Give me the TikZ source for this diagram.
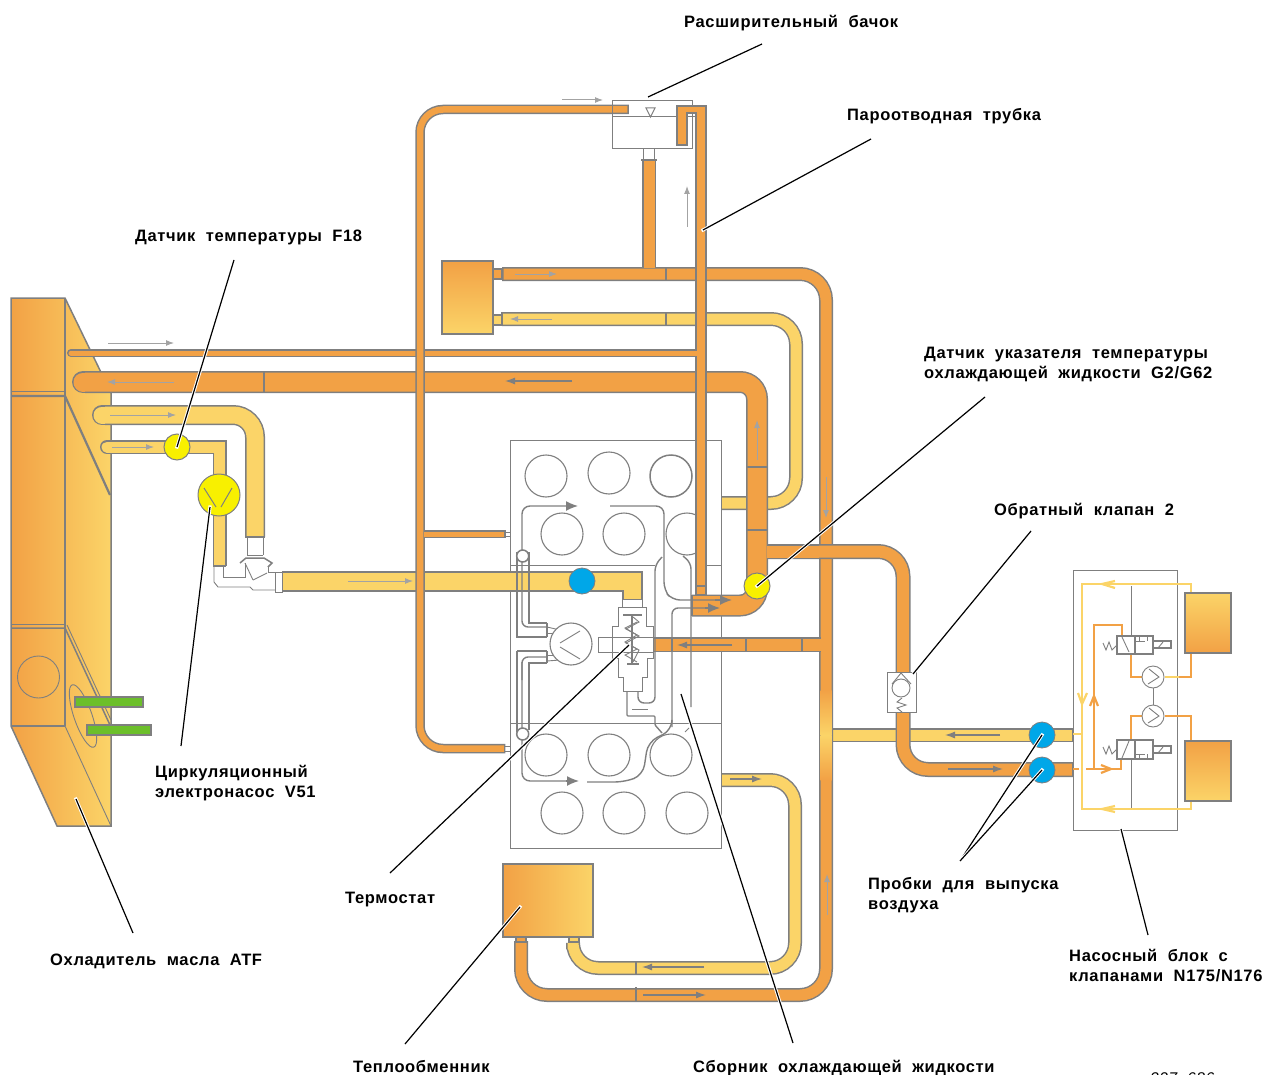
\documentclass[tikz,border=0pt]{standalone}
\usepackage{fontspec}
\setmainfont[LetterSpace=4]{Liberation Sans}
\usetikzlibrary{arrows.meta,positioning}
\definecolor{hot}{HTML}{F2A145}
\definecolor{warm}{HTML}{FBD468}
\definecolor{wallgray}{HTML}{7F7F7F}
\definecolor{flowlight}{HTML}{A3A3A3}
\definecolor{sensoryellow}{HTML}{F8F000}
\definecolor{plugblue}{HTML}{00A7E8}
\definecolor{linegreen}{HTML}{6CBF2A}
\tikzset{
  pipe/.style 2 args={
    draw=wallgray,
    line width=1.5pt,
    double=#1,
    double distance=#2pt
  },
  wall/.style={
    draw=wallgray,
    line width=1.5pt
  },
  thinwall/.style={
    draw=wallgray,
    line width=0.9pt
  },
  duct/.style={
    draw=wallgray,
    line width=1.4pt,
    rounded corners=6pt
  },
  flow/.style={
    draw=wallgray,
    line width=1.2pt,
    -{Latex[length=10pt,width=7pt]}
  },
  bigflow/.style={
    draw=wallgray,
    line width=1.4pt,
    -{Latex[length=12pt,width=10pt]}
  },
  flowpale/.style={
    draw=flowlight,
    line width=1pt,
    -{Latex[length=8pt,width=6pt]}
  },
  cyl/.style={
    shape=circle,
    draw=wallgray,
    line width=1.1pt,
    inner sep=0pt,
    minimum size=42pt
  },
  sensor/.style={
    shape=circle,
    draw=wallgray,
    line width=1pt,
    fill=sensoryellow,
    inner sep=0pt,
    minimum size=26pt
  },
  plug/.style={
    shape=circle,
    draw=wallgray,
    line width=0.8pt,
    fill=plugblue,
    inner sep=0pt,
    minimum size=26pt
  },
  rotor/.style={
    shape=circle,
    draw=wallgray,
    line width=0.9pt,
    fill=white,
    inner sep=0pt,
    minimum size=22pt
  },
  leader/.style={
    draw=black,
    line width=1.2pt,
    preaction={draw=white,line width=3.2pt,line cap=rect}
  },
  lbl/.style={
    anchor=west,
    align=left,
    inner sep=0pt,
    yshift=-2pt,
    font=\bfseries\fontsize{16.5}{20}\selectfont
  },
  hotline/.style={
    draw=hot,
    line width=2.2pt
  },
  warmline/.style={
    draw=warm,
    line width=2.2pt
  }
}

\begin{document}
\begin{tikzpicture}[x=1pt,y=-1pt]
        \useasboundingbox (0,0) rectangle (1268,1075);

        % oil cooler
        \shade[left color=hot, right color=warm] (11,298) -- (65,298) -- (111,393) -- (111,826) -- (57,826) -- (11,726) -- cycle;
        \draw[wall] (11,298) -- (65,298) -- (111,393) -- (111,826) -- (57,826) -- (11,726) -- cycle;
        \draw[wall] (65,298) -- (65,726);
        \draw[wall] (11,726) -- (65,726);
        \draw[thinwall] (65,726) -- (111,826);
        \draw[thinwall] (11,391) -- (65,391);
        \draw[wall, line width=2.2pt] (11,396) -- (65,396) -- (110,495);
        \draw[thinwall] (11,624) -- (65,624);
        \draw[wall] (11,628) -- (65,628) -- (110,725);
        \draw[thinwall] (67,625) -- (111,720);
        \draw[thinwall] (38.5,677) circle[radius=21];
        \draw[thinwall, shift={(83,716)}, rotate=-71] (0,0) ellipse[x radius=33, y radius=9];
        \draw[wall, fill=linegreen] (75,697) rectangle (143,707);
        \draw[wall, fill=linegreen] (87,725) rectangle (151,735);

        % engine block
        \draw[wall, line width=1pt] (510,440) rectangle (721,848);
        \draw[thinwall] (510,723) -- (721,723);
        \draw[thinwall] (510,565) -- (655,565);
        \draw[thinwall] (706,565) -- (721,565);
        \node[cyl] (cylA) at (546,476) {};
        \node[cyl] (cylB) at (609,473) {};
        \node[cyl, line width=1.5pt] (cylC) at (671,476) {};
        \node[cyl] (cylD) at (562,534) {};
        \node[cyl] (cylE) at (624,534) {};
        \node[cyl] (cylF) at (687,534) {};
        \node[cyl] (cylG) at (546,755) {};
        \node[cyl] (cylH) at (609,755) {};
        \node[cyl] (cylI) at (671,755) {};
        \node[cyl] (cylJ) at (562,813) {};
        \node[cyl] (cylK) at (624,813) {};
        \node[cyl] (cylL) at (687,813) {};
        \fill[white] (706.6,510) rectangle (712,560);

        % cold side
        \draw[pipe={warm}{11}, line cap=round] (107,447) -- (112,447);
        \draw[pipe={warm}{11}] (110,447) -- (219.5,447) -- (219.5,566);
        \draw[wall] (213,566) -- (226,566);
        \draw[pipe={warm}{17}, line cap=round] (102,415) -- (108,415);
        \draw[pipe={warm}{17}, rounded corners=22pt] (105,415) -- (255,415) -- (255,537);
        \draw[wall] (245,537) -- (265,537);
        \draw[pipe={warm}{17.5}, line cap=rect] (292,581.5) -- (632.5,581.5) -- (632.5,590);
        \draw[pipe={warm}{11}, rounded corners=25pt] (722,503) -- (796,503) -- (796,319) -- (502,319);
        \draw[wall] (502,312) -- (502,326);
        \draw[pipe={warm}{11}, rounded corners=25pt] (722,780) -- (795,780) -- (795,968) -- (573,968) -- (573,949);
        \draw[pipe={warm}{11}] (833,735) -- (1073,735);
        \draw[wall] (1073,728) -- (1073,742);

        % hot side
        \draw[pipe={hot}{5}, line cap=round] (71,353) -- (75,353);
        \draw[pipe={hot}{5}] (73,353) -- (697,353);
        \draw[pipe={hot}{19}, line cap=round] (83,382) -- (90,382);
        \draw[pipe={hot}{19}, rounded corners=17pt] (85,382) -- (757,382) -- (757,605.5) -- (692,605.5);
        \draw[wall] (692,595) -- (692,616);
        \draw[pipe={hot}{11}, line cap=rect, rounded corners=26pt] (509,274) -- (826,274) -- (826,995) -- (521,995) -- (521,948);
        \draw[pipe={hot}{11}] (649,160) -- (649,268.4);
        \draw[wall] (641,160) -- (657,160);
        \draw[pipe={hot}{12}, rounded corners=25pt] (767.4,551.5) -- (903,551.5) -- (903,769.5) -- (1073,769.5);
        \draw[wall] (1073,762) -- (1073,777);
        \draw[pipe={hot}{12}] (653,644.5) -- (820.6,644.5);
        \draw[pipe={hot}{12}] (767.4,551.5) -- (819.4,551.5);
        \shade[top color=hot, bottom color=warm] (820.5,690) rectangle (831.5,735);
        \shade[top color=warm, bottom color=hot] (820.5,735) rectangle (831.5,780);

        \draw[wall] (264,372) -- (264,393);
        \draw[wall] (746,467) -- (768,467);
        \draw[wall] (746,530) -- (768,530);
        \draw[wall] (666,267) -- (666,281);
        \draw[wall] (666,312) -- (666,326);
        \draw[wall] (636,987) -- (636,1002);
        \draw[wall] (636,961) -- (636,975);
        \draw[wall] (672,638) -- (672,651);
        \draw[wall] (746,638) -- (746,651);
        \draw[wall] (802,638) -- (802,651);

        % radiator on top
        \shade[top color=hot, bottom color=warm] (442,261) rectangle (493,334);
        \draw[wall] (442,261) rectangle (493,334);
        \draw[wall, fill=hot] (493,269) rectangle (502,279);
        \draw[wall, fill=warm] (493,315) rectangle (502,325);

        % heat exchanger
        \shade[left color=hot, right color=warm] (503,864) rectangle (593,937);
        \draw[wall] (503,864) rectangle (593,937);
        \draw[wall, fill=hot] (516,937) rectangle (526,942);
        \draw[wall, fill=warm] (569,937) rectangle (579,942);

        % left loop
        \draw[pipe={hot}{6.5}, line cap=rect, rounded corners=23pt] (624,109.5) -- (420,109.5) -- (420,748.5) -- (500.5,748.5);
        \draw[pipe={hot}{5}] (424.4,534) -- (505,534);
        \draw[wall] (505,530) -- (505,538);
        \draw[thinwall] (505,532) -- (511,532);
        \draw[thinwall] (505,536) -- (511,536);
        \draw[thinwall] (505,746) -- (511,746);
        \draw[thinwall] (505,751) -- (511,751);

        % expansion tank
        \draw[wall, line width=1pt] (612,101) rectangle (692,149);
        \draw[wall, line width=1pt] (612,117) -- (696,117);
        \draw[wall, line width=1pt] (646,108) -- (655,108) -- (650.5,117) -- cycle;
        \draw[wall, line width=1pt] (643,149) -- (643,160);
        \draw[wall, line width=1pt] (654,149) -- (654,160);

        % passages
        \draw[duct, rounded corners=8pt] (522,550) -- (522,506) -- (570,506);
        \draw[bigflow] (566,506) -- (578,506);
        \draw[duct, rounded corners=8pt] (610,506) -- (664,506) -- (664,590) -- (672,600) -- (725,600);
        \draw[bigflow] (715,600) -- (732,600);
        \draw[duct] (672,727) -- (672,608) -- (712,608);
        \draw[bigflow] (705,608) -- (720,608);
        \draw[duct, rounded corners=10pt] (672,722) -- (672,730) -- (648,742) -- (643,775) -- (625,782) -- (587,782);
        \draw[duct, rounded corners=8pt] (522,662) -- (522,781) -- (570,781);
        \draw[bigflow] (566,781) -- (579,781);
        \draw[duct] (683,556) -- (691,563) -- (691,707);
        \draw[duct] (662,557) -- (655,565) -- (655,703) -- (638,703) -- (638,690);
        \draw[duct, rounded corners=1pt] (627,692) -- (627,716) -- (655,716) -- (655,725) -- (662,733);
        \draw[thinwall] (632,709) -- (648,709);
        \draw[thinwall] (685,732) -- (689,728);

        \draw[duct, rounded corners=0pt] (517,552) -- (517,637) -- (547,637);
        \draw[duct] (522,550) -- (522,627) -- (547,627);
        \draw[duct, rounded corners=0pt] (529,552) -- (529,623) -- (547,623);
        \draw[duct, rounded corners=0pt] (517,651) -- (547,651);
        \draw[duct, rounded corners=0pt] (517,651) -- (517,732);
        \draw[duct, rounded corners=0pt] (547,663) -- (529,663) -- (529,730);
        \draw[duct] (522,680) -- (522,657) -- (547,657);
        \draw[wall] (547,623) -- (547,637);
        \draw[wall] (547,651) -- (547,663);
        \draw[thinwall] (547,627) -- (560,630);
        \draw[thinwall] (547,633) -- (556,633);
        \draw[thinwall] (547,655) -- (558,655);
        \draw[thinwall] (547,661) -- (560,660);
        \draw[wall, fill=white] (522.7,556) circle[radius=6];
        \draw[wall, fill=white] (522.7,734) circle[radius=6];

        % water pump
        \node[cyl, fill=white] (pumpMain) at (571,644) {};
        \draw[thinwall] (580,631) -- (560,643);
        \draw[thinwall] (560,647) -- (580,659);
        \draw[thinwall, fill=white] (598,637) rectangle (612,652);

        % thermostat
        \draw[thinwall, fill=white] (622,599) rectangle (642,607);
        \draw[thinwall, fill=white] (618,607) -- (646,607) -- (646,626) -- (653,626) -- (653,658) -- (647,658) -- (647,677) -- (642,677) -- (642,691) -- (623,691) -- (623,677) -- (618,677) -- (618,658) -- (612,658) -- (612,626) -- (618,626) -- cycle;
        \draw[thinwall] (612,637) -- (653,637);
        \draw[thinwall] (612,652) -- (653,652);
        \draw[wall] (623,615) -- (642,615);
        \draw[wall] (627,664) -- (639,664);
        \draw[wall] (632,615) -- (632,664);
        \draw[thinwall] (633,617) -- (639,622) -- (626,629) -- (639,636) -- (626,643) -- (639,650) -- (633,662);
        \draw[thinwall] (637,622) -- (625,628) -- (637,635) -- (625,642) -- (637,649) -- (625,655) -- (637,662);

        % vapour pipe
        \draw[wall, fill=hot] (677,145) -- (677,106) -- (706,106) -- (706,595) -- (696,595) -- (696,113) -- (687,113) -- (687,145) -- cycle;
        \draw[wall] (696,586) -- (706,586);
        \fill[hot] (690,350.5) rectangle (698,355.5);

        % elbow fitting
        \draw[thinwall] (214,566) -- (214,582) -- (218,587) -- (250,587) -- (253,590) -- (275,590);
        \draw[thinwall] (223,566) -- (223,577) -- (245,577) -- (245,563);
        \draw[thinwall] (247,538) -- (247,555);
        \draw[thinwall] (263,538) -- (263,555);
        \draw[thinwall] (247,555) -- (263,555);
        \draw[wall] (240,563) -- (246,558) -- (264,558) -- (272,563) -- (268,567);
        \draw[thinwall] (268,567) -- (268,572) -- (275,572);
        \draw[thinwall] (253,580) -- (267,573);
        \draw[thinwall] (245,563) -- (253,580);
        \draw[thinwall, fill=white] (275,572) rectangle (282,592);

        % sensors and plugs
        \node[sensor] (sensorF) at (177,447) {};
        \node[sensor, minimum size=42pt] (pumpElec) at (219,495) {};
        \draw[thinwall, line width=1pt] (204,488) -- (216,507);
        \draw[thinwall, line width=1pt] (221,507) -- (232,488);
        \node[sensor] (sensorG) at (757,586) {};
        \node[plug] (plugMain) at (582,581) {};
        \node[plug] (plugUp) at (1042,735) {};
        \node[plug] (plugLo) at (1042,770) {};

        % check valve
        \draw[thinwall, fill=white] (887,672) rectangle (916,712);
        \draw[thinwall] (892,684) -- (901,673) -- (911,684);
        \draw[thinwall] (901,688) circle[radius=9];
        \draw[thinwall] (902,698) -- (897,702) -- (906,705) -- (897,708) -- (902,712);

        % flow arrows
        \draw[flowpale] (108,343) -- (174,343);
        \draw[flowpale] (174,382) -- (107,382);
        \draw[flowpale] (110,415) -- (176,415);
        \draw[flowpale] (112,447) -- (154,447);
        \draw[flowpale] (348,581) -- (413,581);
        \draw[flowpale] (562,100) -- (603,100);
        \draw[flowpale] (687,227) -- (687,186);
        \draw[flowpale] (515,274) -- (557,274);
        \draw[flowpale] (552,319) -- (510,319);
        \draw[flow] (572,381) -- (505,381);
        \draw[flowpale] (757,460) -- (757,420);
        \draw[flowpale] (826,477) -- (826,518);
        \draw[flow] (732,645) -- (677,645);
        \draw[flow] (730,779) -- (762,779);
        \draw[flow] (704,967) -- (642,967);
        \draw[flow] (643,995) -- (706,995);
        \draw[flowpale] (827,915) -- (827,874);
        \draw[flow] (1000,735) -- (945,735);
        \draw[flow] (948,769) -- (1003,769);

        % pump unit
        \draw[wall, line width=1pt] (1073,570) rectangle (1177,830);
        \draw[thinwall] (1131,586) -- (1131,636);
        \draw[thinwall] (1131,759) -- (1131,809);
        \draw[thinwall] (1153,688) -- (1153,705);
        \draw[warmline] (1191,593) -- (1191,584) -- (1082,584) -- (1082,809) -- (1191,809) -- (1191,801);
        \draw[warmline] (1073,734) -- (1082,734);
        \draw[warmline] (1115,581) -- (1102,584) -- (1115,588);
        \draw[warmline] (1078,693) -- (1082,704) -- (1087,693);
        \draw[warmline] (1115,806) -- (1102,809) -- (1115,812);
        \draw[hotline] (1073,769) -- (1079,769);
        \draw[hotline] (1086,769) -- (1121,769) -- (1121,759);
        \draw[hotline] (1094,769) -- (1094,625) -- (1122,625) -- (1122,636);
        \draw[hotline] (1090,706) -- (1094,696) -- (1098,706);
        \draw[hotline] (1101,765) -- (1111,769) -- (1101,773);
        \draw[hotline] (1131,654) -- (1131,677) -- (1142,677);
        \draw[warmline] (1165,677) -- (1179,677);
        \draw[hotline] (1179,677) -- (1191,677) -- (1191,653);
        \draw[hotline] (1142,716) -- (1131,716) -- (1131,740);
        \draw[hotline] (1165,716) -- (1191,716) -- (1191,741);
        \node[rotor] (rotorUp) at (1153,677) {};
        \node[rotor] (rotorLo) at (1153,716) {};
        \draw[thinwall] (1149,669) -- (1159,677) -- (1148,684);
        \draw[thinwall] (1149,708) -- (1159,716) -- (1148,723);

        \draw[wall, fill=white] (1117,636) rectangle (1153,654);
        \draw[wall] (1135,636) -- (1135,654);
        \draw[thinwall] (1122,637) -- (1129,652);
        \draw[thinwall] (1136,641) -- (1145,641);
        \draw[thinwall] (1139,637) -- (1139,641);
        \draw[thinwall] (1147,637) -- (1147,641);
        \draw[thinwall] (1103,643) -- (1106,650) -- (1109,642) -- (1112,650) -- (1117,645);
        \draw[wall, fill=white] (1153,641) rectangle (1171,648);
        \draw[thinwall] (1158,648) -- (1163,642);

        \draw[wall, fill=white] (1117,740) rectangle (1153,759);
        \draw[wall] (1135,740) -- (1135,759);
        \draw[thinwall] (1122,758) -- (1129,741);
        \draw[thinwall] (1136,754) -- (1145,754);
        \draw[thinwall] (1139,754) -- (1139,758);
        \draw[thinwall] (1147,754) -- (1147,758);
        \draw[thinwall] (1103,747) -- (1106,754) -- (1109,746) -- (1112,754) -- (1117,749);
        \draw[wall, fill=white] (1153,746) rectangle (1171,753);
        \draw[thinwall] (1158,753) -- (1163,747);

        \shade[top color=warm, bottom color=hot] (1185,593) rectangle (1231,653);
        \draw[wall] (1185,593) rectangle (1231,653);
        \shade[top color=hot, bottom color=warm] (1185,741) rectangle (1231,801);
        \draw[wall] (1185,741) rectangle (1231,801);

        % labels
        \node[lbl] (lblTank) at (684,21) {Расширительный~~бачок};
        \node[lbl] (lblVapour) at (847,114) {Пароотводная~~трубка};
        \node[lbl] (lblFeight) at (135,235) {Датчик~~температуры~~F18};
        \node[lbl] (lblGauge) at (924,362) {Датчик~~указателя~~температуры\\охлаждающей~~жидкости~~G2/G62};
        \node[lbl] (lblCheck) at (994,509) {Обратный~~клапан~~2};
        \node[lbl] (lblPump) at (155,781) {Циркуляционный\\электронасос~~V51};
        \node[lbl] (lblThermo) at (345,898) {Термостат};
        \node[lbl] (lblCooler) at (50,959) {Охладитель~~масла~~ATF};
        \node[lbl] (lblPlugs) at (868,893) {Пробки~~для~~выпуска\\воздуха};
        \node[lbl] (lblUnit) at (1069,964) {Насосный~~блок~~с\\клапанами~~N175/N176};
        \node[lbl] (lblExch) at (353,1065) {Теплообменник};
        \node[lbl] (lblSump) at (693,1066) {Сборник~~охлаждающей~~жидкости};
        \node[anchor=west, inner sep=0pt, font=\itshape\fontsize{15.5}{18}\selectfont] (lblCode) at (1150,1079) {327\_686};

        % leaders
        \coordinate (tankFrom) at (762,44);
        \coordinate (tankTo) at (648,97);
        \coordinate (vapourFrom) at (871,139);
        \coordinate (vapourTo) at (703,230);
        \coordinate (feightFrom) at (234,260);
        \coordinate (gaugeFrom) at (985,397);
        \coordinate (checkFrom) at (1031,531);
        \coordinate (checkTo) at (913,674);
        \coordinate (pumpFrom) at (181,746);
        \coordinate (pumpTo) at (210,507);
        \coordinate (coolerFrom) at (133,933);
        \coordinate (coolerTo) at (76,799);
        \coordinate (thermoFrom) at (390,873);
        \coordinate (thermoTo) at (629,645);
        \coordinate (exchFrom) at (405,1044);
        \coordinate (exchTo) at (520,907);
        \coordinate (sumpFrom) at (793,1043);
        \coordinate (sumpTo) at (681,694);
        \coordinate (plugsFrom) at (960,861);
        \coordinate (unitFrom) at (1148,935);
        \coordinate (unitTo) at (1121,829);

        \draw[leader] (tankFrom) -- (tankTo);
        \draw[leader] (vapourFrom) -- (vapourTo);
        \draw[leader] (feightFrom) -- (sensorF.center);
        \draw[leader] (gaugeFrom) -- (sensorG.center);
        \draw[leader] (checkFrom) -- (checkTo);
        \draw[leader] (pumpFrom) -- (pumpTo);
        \draw[leader] (coolerFrom) -- (coolerTo);
        \draw[leader] (thermoFrom) -- (thermoTo);
        \draw[leader] (exchFrom) -- (exchTo);
        \draw[leader] (sumpFrom) -- (sumpTo);
        \draw[leader] (plugsFrom) -- (plugUp.center);
        \draw[leader] (plugsFrom) -- (plugLo.center);
        \draw[leader] (unitFrom) -- (unitTo);
\end{tikzpicture}
\end{document}
